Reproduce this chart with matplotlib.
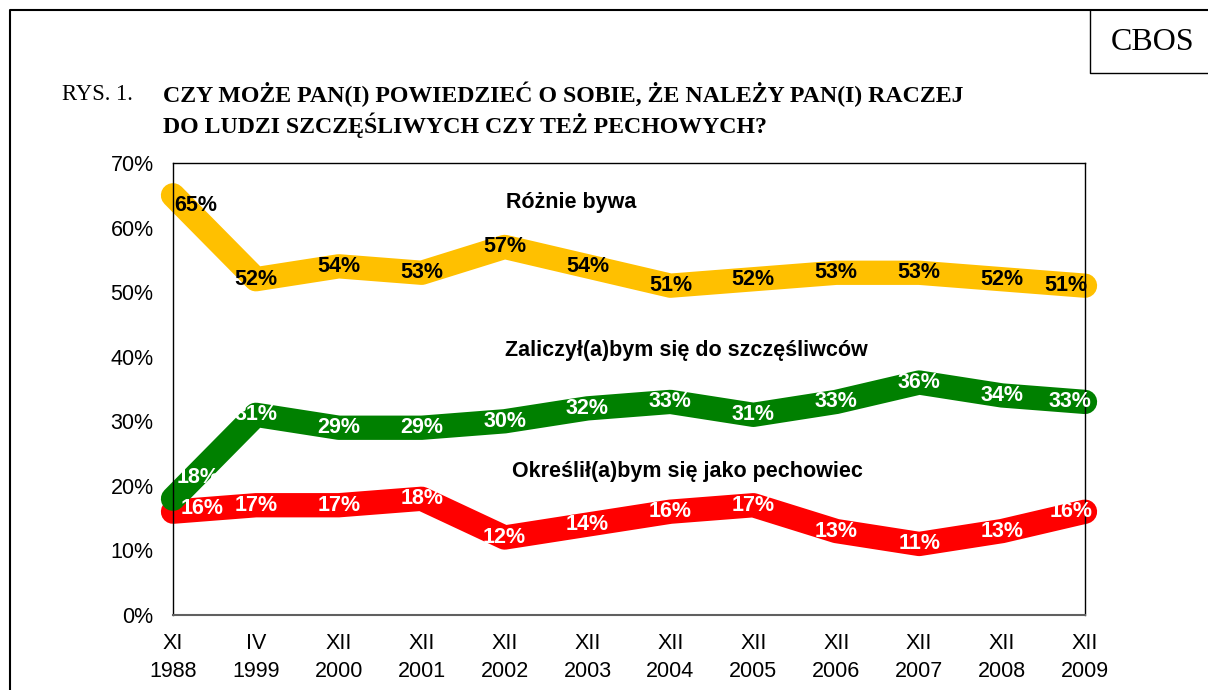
import matplotlib.pyplot as plt
from matplotlib.lines import Line2D
from matplotlib.ticker import FuncFormatter

# survey waves
months = ["XI", "IV", "XII", "XII", "XII", "XII", "XII", "XII", "XII", "XII", "XII", "XII"]
years = ["1988", "1999", "2000", "2001", "2002", "2003", "2004", "2005", "2006", "2007", "2008", "2009"]

rozne = [65, 52, 54, 53, 57, 54, 51, 52, 53, 53, 52, 51]
szczesliwi = [18, 31, 29, 29, 30, 32, 33, 31, 33, 36, 34, 33]
pechowcy = [16, 17, 17, 18, 12, 14, 16, 17, 13, 11, 13, 16]

W, H = 1208, 690


def fx(px):
    return px / W


def fy(py):
    return 1 - py / H


plt.rcParams["font.family"] = ["Liberation Sans", "DejaVu Sans"]

fig = plt.figure(figsize=(W / 100, H / 100), dpi=100)
ax = fig.add_axes([fx(173), fy(615), fx(1085) - fx(173), fy(163) - fy(615)])

x = list(range(len(years)))
series = [
    (pechowcy, "#FF0000", "white", [(29, 3), (-14, 0)]),
    (szczesliwi, "#008000", "white", [(25, 21), (-15, 0)]),
    (rozne, "#FFC000", "black", [(23, -10), (-19, 0)]),
]

for vals, color, txtcolor, edge_offsets in series:
    ax.plot(x, vals, color=color, lw=17.5, solid_capstyle="round",
            solid_joinstyle="round", clip_on=False)

for vals, color, txtcolor, edge_offsets in series:
    for i, v in enumerate(vals):
        dx, dy = 0, 0
        if i == 0:
            dx, dy = edge_offsets[0]
        elif i == len(vals) - 1:
            dx, dy = edge_offsets[1]
        ax.annotate(f"{v}%", (i, v), xytext=(dx * 0.72, dy * 0.72),
                    textcoords="offset points", ha="center", va="center",
                    fontsize=15.5, fontweight="bold", color=txtcolor,
                    annotation_clip=False, zorder=5)

ax.set_xlim(0, len(years) - 1)
ax.set_ylim(0, 70)
ax.set_yticks(range(0, 71, 10))
ax.yaxis.set_major_formatter(FuncFormatter(lambda v, p: f"{v:.0f}%"))
ax.set_xticks(x)
ax.set_xticklabels([f"{m}\n{y}" for m, y in zip(months, years)], linespacing=1.45)
ax.tick_params(length=0, labelsize=15.5)
ax.tick_params(axis="y", pad=14)
ax.tick_params(axis="x", pad=13)
for s in ax.spines.values():
    s.set_linewidth(1)
    s.set_color("black")
ax.spines["bottom"].set_color("#606060")
ax.spines["bottom"].set_linewidth(1.5)

# series names
fig.text(fx(506), fy(203), "Różnie bywa", fontsize=15.5, fontweight="bold", va="center")
fig.text(fx(505), fy(351), "Zaliczył(a)bym się do szczęśliwców", fontsize=15.5,
         fontweight="bold", va="center")
fig.text(fx(512), fy(472), "Określił(a)bym się jako pechowiec", fontsize=15.5,
         fontweight="bold", va="center")

# title
serif = ["Liberation Serif", "DejaVu Serif"]
fig.text(fx(62), fy(94), "RYS. 1.", family=serif, fontsize=16.3, va="center")
fig.text(fx(163), fy(94), "CZY MOŻE PAN(I) POWIEDZIEĆ O SOBIE, ŻE NALEŻY PAN(I) RACZEJ",
         family=serif, fontsize=17.2, fontweight="bold", va="center")
fig.text(fx(163), fy(125), "DO LUDZI SZCZĘŚLIWYCH CZY TEŻ PECHOWYCH?",
         family=serif, fontsize=17.2, fontweight="bold", va="center")
fig.text(fx(1153), fy(42), "CBOS", family=serif, fontsize=23, ha="center", va="center")

# frames
fig.add_artist(Line2D([fx(10), fx(10), fx(1208)], [fy(690), fy(10), fy(10)],
                      color="black", lw=1.5))
fig.add_artist(Line2D([fx(1090), fx(1090), fx(1208)], [fy(10), fy(73), fy(73)],
                      color="black", lw=1))

fig.savefig("out.png", dpi=100)
